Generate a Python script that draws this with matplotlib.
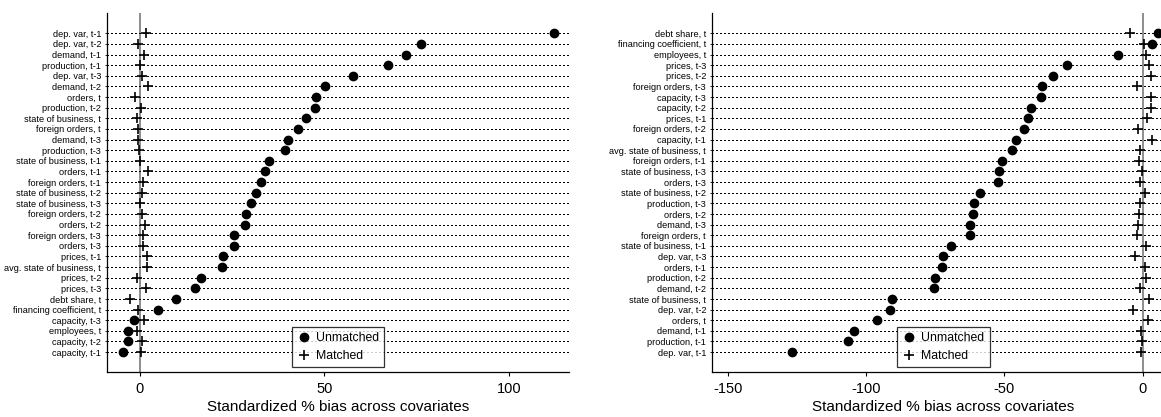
import matplotlib
matplotlib.use("Agg")
import matplotlib.pyplot as plt
import numpy as np

plt.rcParams["font.family"] = ["Liberation Sans", "DejaVu Sans"]

# Left panel: covariates and standardized % bias
left_labels = [
    "dep. var, t-1", "dep. var, t-2", "demand, t-1", "production, t-1",
    "dep. var, t-3", "demand, t-2", "orders, t", "production, t-2",
    "state of business, t", "foreign orders, t", "demand, t-3",
    "production, t-3", "state of business, t-1", "orders, t-1",
    "foreign orders, t-1", "state of business, t-2", "state of business, t-3",
    "foreign orders, t-2", "orders, t-2", "foreign orders, t-3", "orders, t-3",
    "prices, t-1", "avg. state of business, t", "prices, t-2", "prices, t-3",
    "debt share, t", "financing coefficient, t", "capacity, t-3",
    "employees, t", "capacity, t-2", "capacity, t-1",
]
left_unmatched = [
    112.3, 76.3, 72.2, 67.2, 57.8, 50.1, 47.7, 47.5, 45.0, 42.8, 40.2,
    39.3, 35.1, 34.1, 32.9, 31.4, 30.2, 28.8, 28.5, 25.7, 25.5, 22.7,
    22.4, 16.7, 14.9, 9.8, 4.9, -1.6, -3.1, -3.1, -4.5,
]
left_matched = [
    1.7, -0.5, 1.1, 0.2, 0.7, 2.2, -1.3, 0.5, -0.6, -0.3, -0.3, -0.1,
    0.1, 2.3, 1.0, 0.6, 0.1, 0.6, 1.6, 0.8, 0.8, 2.0, 2.0, -0.6, 1.7,
    -2.7, -0.5, 1.1, -0.7, 0.6, 0.5,
]

# Right panel
right_labels = [
    "debt share, t", "financing coefficient, t", "employees, t", "prices, t-3",
    "prices, t-2", "foreign orders, t-3", "capacity, t-3", "capacity, t-2",
    "prices, t-1", "foreign orders, t-2", "capacity, t-1",
    "avg. state of business, t", "foreign orders, t-1",
    "state of business, t-3", "orders, t-3", "state of business, t-2",
    "production, t-3", "orders, t-2", "demand, t-3", "foreign orders, t",
    "state of business, t-1", "dep. var, t-3", "orders, t-1",
    "production, t-2", "demand, t-2", "state of business, t", "dep. var, t-2",
    "orders, t", "demand, t-1", "production, t-1", "dep. var, t-1",
]
right_unmatched = [
    5.7, 3.5, -8.9, -27.5, -32.3, -36.5, -36.8, -40.4, -41.5, -42.9, -45.9,
    -47.1, -50.9, -51.8, -52.3, -58.7, -60.9, -61.2, -62.4, -62.5, -69.3,
    -72.2, -72.7, -75.1, -75.3, -90.5, -91.2, -96.0, -104.5, -106.5, -126.8,
]
right_matched = [
    -4.5, 0.6, 1.1, 2.2, 3.1, -2.0, 3.1, 3.1, 1.7, -1.6, 3.4, -0.8, -1.2,
    -0.2, -0.8, 1.0, -1.1, -1.2, -1.6, -2.2, 1.2, -2.8, 0.7, 1.2, -0.8,
    2.2, -3.5, 1.9, -0.5, -0.2, -0.5,
]

W, H = 1161, 417
fig = plt.figure(figsize=(W / 100, H / 100), dpi=100)


def panel(rect, labels, unmatched, matched, xlim, xticks):
    ax = fig.add_axes(rect)
    n = len(labels)
    pos = np.arange(n)[::-1]
    ax.set_xlim(*xlim)
    ax.set_ylim(-1.91, n - 1 + 1.91)
    ax.axvline(0, color="#858585", lw=1.3, zorder=1)
    # dotted row guides
    ax.hlines(pos, xlim[0], xlim[1], color="black", lw=0.8,
              linestyles=[(0, (1.2, 2.6))], antialiased=False, zorder=2)
    ax.plot(unmatched, pos, "o", color="black", ms=6, zorder=4,
            clip_on=False, label="Unmatched")
    ax.plot(matched, pos, "+", color="black", ms=6.5, mew=1.2, zorder=5,
            label="Matched")
    ax.set_yticks(pos)
    ax.set_yticklabels(labels, fontsize=6.6)
    ax.set_xticks(xticks)
    ax.set_xticklabels([str(t) for t in xticks], fontsize=10.5)
    ax.tick_params(axis="x", length=3, width=0.8, pad=4)
    ax.tick_params(axis="y", length=1.5, width=0.6, pad=3)
    for s in ["top", "right"]:
        ax.spines[s].set_visible(False)
    for s in ["left", "bottom"]:
        ax.spines[s].set_linewidth(0.9)
    ax.set_xlabel("Standardized % bias across covariates", fontsize=11, labelpad=3)
    leg = ax.legend(loc="lower center", bbox_to_anchor=(0.5, 0.0), fontsize=8.8,
                    frameon=True, fancybox=False, edgecolor="black",
                    handlelength=1.0, handletextpad=0.5, borderpad=0.45,
                    labelspacing=0.45, borderaxespad=0.4)
    leg.get_frame().set_linewidth(0.9)
    return ax


bottom = 1 - 372.3 / H
height = (372.3 - 13) / H
panel([107.3 / W, bottom, (569 - 107.3) / W, height],
      left_labels, left_unmatched, left_matched, (-8.74, 116.3), [0, 50, 100])
panel([712.3 / W, bottom, (1174.7 - 712.3) / W, height],
      right_labels, right_unmatched, right_matched, (-155.6, 11.6),
      [-150, -100, -50, 0])

fig.savefig("out.png", dpi=100)
